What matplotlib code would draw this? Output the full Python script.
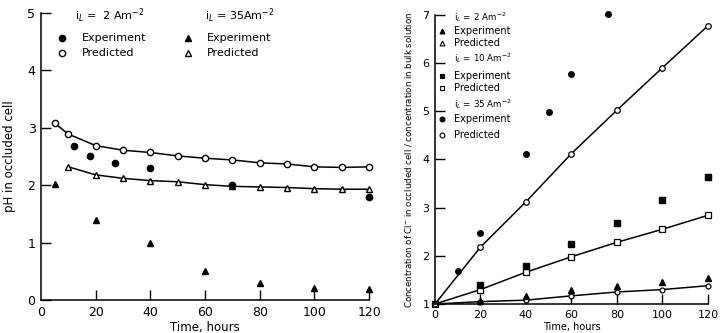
import numpy as np
import matplotlib.pyplot as plt

plt.rcParams['font.family'] = 'DejaVu Sans'

# pH in occluded cell
ph_pred_2_t = [5, 10, 20, 30, 40, 50, 60, 70, 80, 90, 100, 110, 120]
ph_pred_2 = [3.08, 2.89, 2.69, 2.61, 2.57, 2.51, 2.47, 2.44, 2.39, 2.37, 2.32, 2.31, 2.32]
ph_pred_35_t = [10, 20, 30, 40, 50, 60, 70, 80, 90, 100, 110, 120]
ph_pred_35 = [2.32, 2.18, 2.12, 2.08, 2.06, 2.01, 1.98, 1.97, 1.96, 1.94, 1.93, 1.93]
ph_exp_2_t = [12, 18, 27, 40, 70, 120]
ph_exp_2 = [2.69, 2.51, 2.39, 2.30, 2.01, 1.79]
ph_exp_35_t = [5, 20, 40, 60, 80, 100, 120]
ph_exp_35 = [2.02, 1.39, 1.00, 0.51, 0.29, 0.21, 0.19]

# chloride concentration ratio
cl_t = [0, 20, 40, 60, 80, 100, 120]
cl_pred_2 = [1.0, 1.05, 1.08, 1.17, 1.25, 1.30, 1.38]
cl_pred_10 = [1.0, 1.30, 1.66, 1.98, 2.28, 2.55, 2.84]
cl_pred_35 = [1.0, 2.18, 3.12, 4.12, 5.02, 5.90, 6.77]
cl_exp_2_t = [20, 40, 60, 80, 100, 120]
cl_exp_2 = [1.07, 1.17, 1.30, 1.37, 1.46, 1.55]
cl_exp_10_t = [20, 40, 60, 80, 100, 120]
cl_exp_10 = [1.40, 1.79, 2.24, 2.69, 3.16, 3.63]
cl_exp_35_t = [10, 20, 40, 50, 60, 76]
cl_exp_35 = [1.68, 2.48, 4.12, 4.98, 5.77, 7.02]

fig = plt.figure(figsize=(7.21, 3.33), dpi=100)
ax1 = fig.add_axes([0.0569, 0.099, 0.455, 0.862])
ax2 = fig.add_axes([0.6033, 0.087, 0.3786, 0.869])

lw = 1.1
for ax in (ax1, ax2):
    for s in ('top', 'right'):
        ax.spines[s].set_visible(False)
    ax.spines['left'].set_linewidth(lw)
    ax.spines['bottom'].set_linewidth(lw)
    ax.set_xlim(0, 120)
    ax.set_xticks([0, 20, 40, 60, 80, 100, 120])
    ax.tick_params(direction='in', width=1.0, length=7, pad=4)
    # no tick mark at the origin
    ax.xaxis.get_major_ticks()[0].tick1line.set_visible(False)

# left panel
ax1.plot(ph_pred_2_t, ph_pred_2, '-o', color='k', lw=lw, ms=4.5, mfc='white', mew=1.0, clip_on=False)
ax1.plot(ph_pred_35_t, ph_pred_35, '-^', color='k', lw=lw, ms=4.5, mfc='white', mew=1.0, clip_on=False)
ax1.plot(ph_exp_2_t, ph_exp_2, 'o', color='k', ms=4.5, clip_on=False)
ax1.plot(ph_exp_35_t, ph_exp_35, '^', color='k', ms=4.5, clip_on=False)
ax1.set_ylim(0, 5)
ax1.set_yticks([0, 1, 2, 3, 4, 5])
ax1.tick_params(labelsize=9)
ax1.set_xlabel('Time, hours', fontsize=8.5, labelpad=2)
ax1.set_ylabel('pH in occluded cell', fontsize=8.5, labelpad=8)

ax1.text(0.105, 0.99, 'i$_L$ =  2 Am$^{-2}$', transform=ax1.transAxes, fontsize=8, va='center')
ax1.text(0.5, 0.99, 'i$_L$ = 35Am$^{-2}$', transform=ax1.transAxes, fontsize=8, va='center')
for x0, mk in ((0.065, 'o'), (0.447, '^')):
    ax1.plot([x0], [0.913], mk, color='k', ms=4.5, transform=ax1.transAxes, clip_on=False)
    ax1.plot([x0], [0.861], mk, color='k', ms=4.5, mfc='white', mew=1.0,
             transform=ax1.transAxes, clip_on=False)
    ax1.text(x0 + 0.06, 0.913, 'Experiment', transform=ax1.transAxes, fontsize=8, va='center')
    ax1.text(x0 + 0.06, 0.861, 'Predicted', transform=ax1.transAxes, fontsize=8, va='center')

# right panel
ax2.plot(cl_t, cl_pred_35, '-o', color='k', lw=lw, ms=4, mfc='white', mew=0.9, clip_on=False)
ax2.plot(cl_t, cl_pred_10, '-s', color='k', lw=lw, ms=4.5, mfc='white', mew=0.9, clip_on=False)
ax2.plot(cl_t, cl_pred_2, '-o', color='k', lw=lw, ms=3.5, mfc='white', mew=0.9, clip_on=False)
ax2.plot(cl_exp_35_t, cl_exp_35, 'o', color='k', ms=4, clip_on=False)
ax2.plot(cl_exp_10_t, cl_exp_10, 's', color='k', ms=4.5, clip_on=False)
ax2.plot(cl_exp_2_t, cl_exp_2, '^', color='k', ms=4, clip_on=False)
ax2.set_ylim(1, 7)
ax2.set_yticks([1, 2, 3, 4, 5, 6, 7])
ax2.tick_params(labelsize=8)
ax2.set_xlabel('Time, hours', fontsize=7, labelpad=2)
ax2.set_ylabel('Concentration of Cl$^{-}$ in occluded cell / concentration in bulk solution',
               fontsize=6.2, labelpad=6)

legend_rows = [
    ('i$_L$ = 2 Am$^{-2}$', None, None),
    ('Experiment', '^', 'k'),
    ('Predicted', '^', 'white'),
    ('i$_L$ = 10 Am$^{-2}$', None, None),
    ('Experiment', 's', 'k'),
    ('Predicted', 's', 'white'),
    ('i$_L$ = 35 Am$^{-2}$', None, None),
    ('Experiment', 'o', 'k'),
    ('Predicted', 'o', 'white'),
]
ys = [0.99, 0.945, 0.903, 0.85, 0.788, 0.746, 0.69, 0.638, 0.585]
for (label, mk, fc), y in zip(legend_rows, ys):
    if mk is None:
        ax2.text(0.068, y, label, transform=ax2.transAxes, fontsize=6.3, va='center')
    else:
        ax2.plot([0.027], [y], mk, color='k', ms=3.5, mfc=fc, mew=0.8,
                 transform=ax2.transAxes, clip_on=False)
        ax2.text(0.068, y, label, transform=ax2.transAxes, fontsize=7, va='center')

fig.savefig('out.png', dpi=100)
